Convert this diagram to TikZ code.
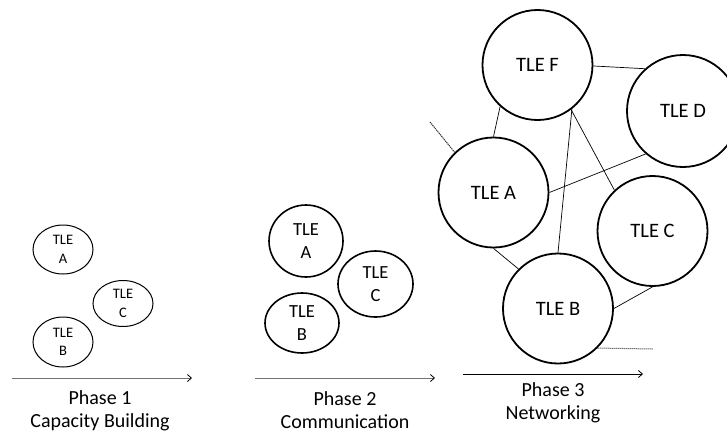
\documentclass[tikz,border=0pt]{standalone}
\usepackage{fontspec}
\setmainfont{Carlito}
\usetikzlibrary{shapes.geometric,arrows.meta}
\begin{document}
\begin{tikzpicture}[x=1pt,y=-1pt,
  oneell/.style={draw,ellipse,line width=1pt,inner sep=0pt,align=center,
    font=\fontsize{14.5}{18.5}\selectfont},
  twocirc/.style={draw,ellipse,line width=1.6pt,inner sep=0pt,align=center,
    font=\fontsize{18.5}{23}\selectfont},
  bigcirc/.style={draw,circle,line width=1.8pt,minimum size=110pt,inner sep=0pt,
    font=\fontsize{20.5}{24}\selectfont},
  link/.style={draw,line width=0.7pt},
  dotlink/.style={draw,line width=1pt,black!85,dash pattern=on 1.2pt off 0.8pt},
  axis/.style={draw,line width=0.8pt,black!55,-{Straight Barb[length=4pt,width=7pt,black]}},
  phaselabel/.style={align=center,font=\fontsize{20}{23.5}\selectfont}]
\useasboundingbox (0,0) rectangle (727,437);
\clip (0,0) rectangle (727,437);
% Phase 1
\node[oneell,minimum width=60pt,minimum height=49pt] (a1) at (63,249.5) {TLE\\A};
\node[oneell,minimum width=60pt,minimum height=46pt] (c1) at (123,303.5) {TLE\\C};
\node[oneell,minimum width=60pt,minimum height=50pt] (b1) at (63,342) {TLE\\B};
\coordinate (s1) at (12,378);
\coordinate (e1) at (192,378);
\draw[axis] (s1) -- (e1);
\node[phaselabel] (p1) at (100,411) {Phase 1\\Capacity Building};
% Phase 2
\node[twocirc,minimum width=74pt,minimum height=72pt] (a2) at (306,241) {TLE\\A};
\node[twocirc,minimum width=75pt,minimum height=66pt] (c2) at (375.5,284) {TLE\\C};
\node[twocirc,minimum width=74pt,minimum height=60pt] (b2) at (302,323) {TLE\\B};
\coordinate (s2) at (255,378);
\coordinate (e2) at (435,378);
\draw[axis] (s2) -- (e2);
\node[phaselabel] (p2) at (345,410) {Phase 2\\Communication};
% Phase 3
\node[bigcirc] (F) at (537.5,65) {TLE F};
\node[bigcirc,minimum size=112pt] (D) at (683,111) {TLE D};
\node[bigcirc] (A) at (493.5,192.5) {TLE A};
\node[bigcirc] (C) at (652.5,231) {TLE C};
\node[bigcirc] (B) at (558,308.5) {TLE B};
\draw[link] (F.-1) -- (D.132);
\draw[link] (F.228) -- (A.90);
\draw[link] (F.-52) -- (B.90);
\draw[link] (F.-53) -- (C.133);
\draw[link] (A.0) -- (D.229);
\draw[link] (A.270) -- (B.135);
\draw[link] (B.0) -- (C.270);
\coordinate (ta) at (430,122);
\coordinate (tb) at (653,349);
\draw[dotlink] (ta) -- (A.134);
\draw[dotlink] (B.-45) -- (tb);
\coordinate (s3) at (463,374);
\coordinate (e3) at (643,374);
\draw[axis,black] (s3) -- (e3);
\node[phaselabel] (p3) at (553,403) {Phase 3\\Networking};
\end{tikzpicture}
\end{document}
